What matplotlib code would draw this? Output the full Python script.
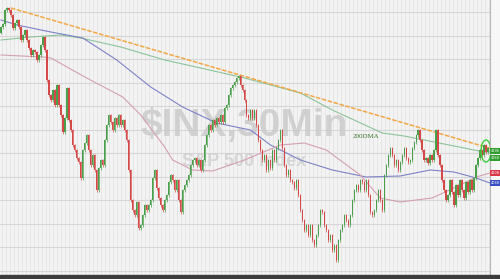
import numpy as np
import matplotlib.pyplot as plt
from matplotlib.patches import Ellipse, Rectangle
from matplotlib.transforms import blended_transform_factory

# 30-minute closes (price units)
closes = [
    4692, 4704, 4760, 4768, 4760, 4740, 4688, 4708, 4720, 4692,
    4640, 4660, 4680, 4640, 4608, 4580, 4600, 4592, 4560, 4580,
    4620, 4652, 4600, 4480, 4420, 4400, 4440, 4380, 4460, 4380,
    4340, 4272, 4328, 4448, 4320, 4280, 4220, 4200, 4168, 4152,
    4088, 4200, 4228, 4260, 4200, 4140, 4180, 4120, 4040, 4128,
    4160, 4140, 4240, 4300, 4340, 4312, 4280, 4328, 4300, 4340,
    4300, 4320, 4280, 4240, 4120, 4000, 3960, 3940, 3992, 3888,
    3900, 3940, 3980, 3960, 3980, 4000, 4088, 4120, 4048, 4008,
    3980, 3960, 4000, 4020, 4072, 4100, 4080, 4040, 4080, 4000,
    3952, 4040, 4060, 4080, 4100, 4140, 4160, 4168, 4140, 4160,
    4120, 4160, 4220, 4260, 4300, 4280, 4320, 4300, 4328, 4312,
    4340, 4312, 4368, 4380, 4420, 4448, 4460, 4472, 4488, 4496,
    4460, 4440, 4400, 4340, 4328, 4360, 4328, 4360, 4300, 4240,
    4200, 4160, 4180, 4120, 4160, 4128, 4200, 4160, 4208, 4240,
    4280, 4208, 4140, 4100, 4120, 4080, 4072, 4048, 4080, 4020,
    3960, 3920, 3880, 3900, 3860, 3900, 3840, 3820, 3860, 3900,
    3960, 3952, 3900, 3880, 3840, 3860, 3800, 3820, 3760, 3840,
    3880, 3900, 3940, 3920, 3900, 3940, 4000, 4040, 4060, 4040,
    4080, 4072, 4040, 4080, 4020, 3952, 3940, 3960, 4000, 4040,
    4000, 3960, 4100, 4140, 4180, 4208, 4180, 4140, 4160, 4120,
    4152, 4180, 4208, 4168, 4152, 4160, 4208, 4232, 4260, 4280,
    4240, 4200, 4160, 4168, 4148, 4180, 4160, 4200, 4280, 4180,
    4140, 4080, 4040, 4000, 4020, 4080, 4032, 3980, 4060, 4020,
    4080, 4040, 4008, 4072, 4032, 4080, 4040, 4088, 4140, 4168,
    4200, 4180, 4220, 4192, 4208,
]
first_open = 4670

# moving averages (bar index, price)
dma200_idx = [0, 15, 30, 40, 60, 82, 100, 122, 150, 166, 191, 202, 242, 245]
dma200_val = [4640, 4652, 4660, 4648, 4612, 4560, 4528, 4488, 4428, 4360, 4268, 4256, 4192, 4192]
dma50_idx = [0, 8, 25, 41, 58, 75, 91, 108, 125, 135, 150, 166, 183, 200, 215, 227, 238, 245]
dma50_val = [4720, 4700, 4672, 4648, 4560, 4452, 4372, 4308, 4280, 4220, 4160, 4120, 4092, 4096,
             4120, 4112, 4088, 4068]
dma100_idx = [0, 21, 25, 42, 61, 70, 82, 86, 96, 106, 122, 140, 152, 163, 180, 190, 200, 216,
              228, 238, 245]
dma100_val = [4580, 4572, 4568, 4492, 4412, 4340, 4212, 4160, 4120, 4116, 4160, 4220, 4228,
              4200, 4100, 4008, 3992, 4008, 4052, 4092, 4108]
trend_idx = [5, 248]
trend_val = [4768, 4200]

# last-value tags on the right edge
tag_vals = [4196, 4168, 4108, 4068]
tag_cols = ['#2f9e2f', '#2f9e2f', '#d9364a', '#3a4fc4']

fig = plt.figure(figsize=(5, 2.79), dpi=100)
fig.patch.set_facecolor('#f7f7f7')
ax = fig.add_axes([0, 4 / 279, 0.98, 275 / 279])
ax.set_facecolor('#f3f3f3')

n = len(closes)
x = np.arange(n)
opens = np.array([first_open] + closes[:-1])
cl = np.array(closes)
up = cl >= opens
wick = 6

# grid
for gx in np.arange(0, n + 2, 2):
    ax.axvline(gx + 0.3, color='#e3e3e3', lw=0.6, zorder=0)
for gy in np.arange(4752, 3700, -94):
    ax.axhline(gy, color='#d6d6d6', lw=0.8, zorder=0)

# watermark
ax.text(122, 4296, '$INX,30Min', fontsize=28, fontweight='bold', family='Liberation Sans',
        color='#c9c9c9', alpha=0.8, ha='center', va='center', zorder=1)
ax.text(122, 4152, 'S&P 500 Index', fontsize=13, fontweight='bold', family='Liberation Sans',
        color='#cfcfcf', alpha=0.8, ha='center', va='center', zorder=1)

# moving averages and trend line
ax.plot(dma200_idx, dma200_val, color='#8cc49a', lw=0.8, zorder=2)
ax.plot(dma50_idx, dma50_val, color='#7d82c8', lw=0.8, zorder=2)
ax.plot(dma100_idx, dma100_val, color='#d4a0b0', lw=0.8, zorder=2)
ax.plot(trend_idx, trend_val, color='#f2a845', lw=1.1, ls=(0, (3, 1)), zorder=2)

# candles
cols = np.where(up, '#4a9f4a', '#d64848')
ax.vlines(x, np.minimum(opens, cl) - wick, np.maximum(opens, cl) + wick, colors=cols, lw=0.5, zorder=3)
ax.bar(x, cl - opens, bottom=opens, width=0.65, color=cols, zorder=3)

ax.text(183, 4256, '200DMA', fontsize=5, family='Liberation Serif', color='#3a7a2a',
        ha='center', va='center', zorder=4)

ax.add_patch(Ellipse((243, 4196), 5, 88, fill=False, ec='#3ccc3c', lw=1.0, zorder=5))

tr = blended_transform_factory(ax.transAxes, ax.transData)
for v, c in zip(tag_vals, tag_cols):
    ax.text(1.002, v, '4%03d' % (v % 1000), transform=tr, fontsize=2.5, color='white',
            ha='left', va='center', clip_on=False,
            bbox=dict(boxstyle='square,pad=0.4', fc=c, ec='none'))

ax.set_xlim(-0.5, 245)
ax.set_ylim(3700, 4800)
ax.set_xticks([])
ax.set_yticks([])
for s in ['top', 'left', 'bottom']:
    ax.spines[s].set_visible(False)
ax.spines['right'].set_color('#b8b8b8')
ax.spines['right'].set_linewidth(0.8)

fig.patches.append(Rectangle((0, 0), 1, 4 / 279, transform=fig.transFigure, color='#3c3c3c'))

fig.savefig('out.png', dpi=100)
